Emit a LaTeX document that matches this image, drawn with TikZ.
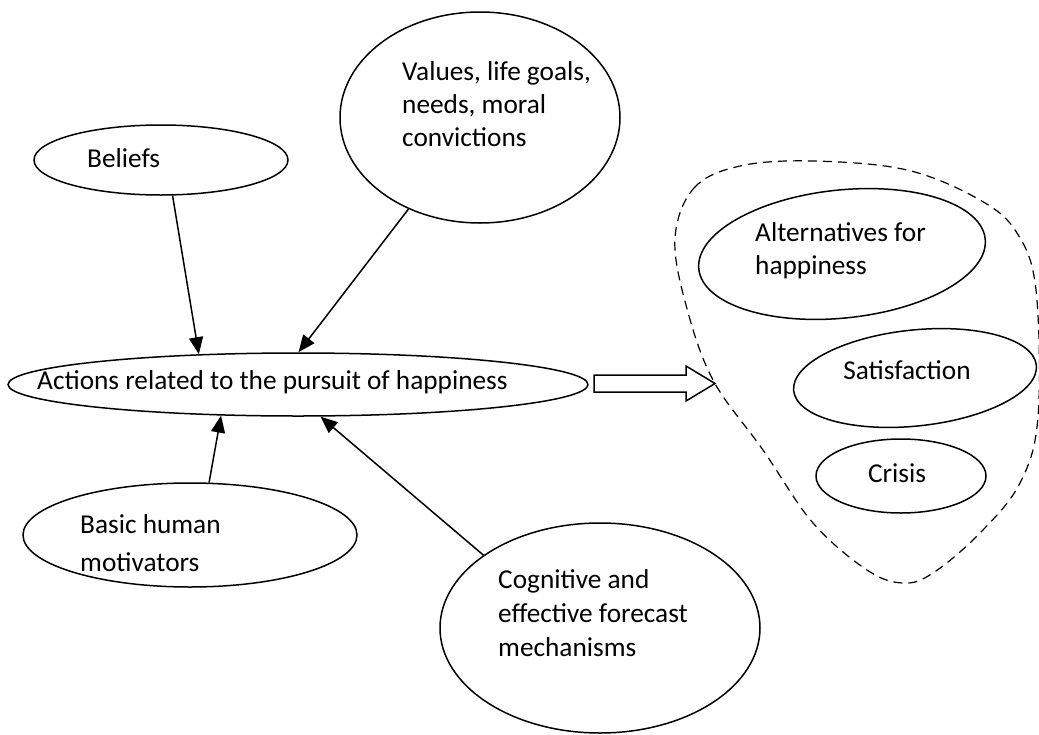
\documentclass[tikz,border=0pt]{standalone}
\usepackage{fontspec}
\setmainfont{Carlito}
\usetikzlibrary{shapes.geometric,arrows.meta}
\begin{document}
\begin{tikzpicture}[x=1pt,y=-1pt,
  oval/.style={draw,ellipse,line width=1.5pt,inner sep=0pt},
  lbl/.style={inner sep=0pt,align=left,anchor=west,font=\fontsize{27.3}{33}\selectfont},
  clbl/.style={inner sep=0pt,font=\fontsize{27.3}{33}\selectfont},
  link/.style={line width=1.5pt,-{Triangle[length=17pt,width=14pt]}},
  region/.style={draw,line width=1.2pt,dash pattern=on 9pt off 6pt},
  blockarrow/.style={draw,line width=1.5pt,fill=white}]
\useasboundingbox (0,0) rectangle (1039,734);
% main ellipse
\node[oval,minimum width=580pt,minimum height=63pt] (main) at (298,384.5) {};
\node[lbl] (mainT) at (37,382) {Actions related to the pursuit of happiness};
% beliefs
\node[oval,minimum width=254pt,minimum height=70pt] (beliefs) at (161,160) {};
\node[lbl] (beliefsT) at (87,158) {Beliefs};
% values
\node[oval,minimum width=280pt,minimum height=211pt] (values) at (480,117.5) {};
\node[lbl] (valuesT) at (402,104) {Values, life goals,\\needs, moral\\convictions};
% basic
\node[oval,minimum width=334pt,minimum height=104pt] (basic) at (190,535) {};
\node[lbl,font=\fontsize{27.3}{38}\selectfont] (basicT) at (80,543) {Basic human\\motivators};
% cognitive
\node[oval,minimum width=320pt,minimum height=210pt] (cog) at (600,628) {};
\node[lbl,font=\fontsize{27.3}{34}\selectfont] (cogT) at (498,613) {Cognitive and\\effective forecast\\mechanisms};
% right group
\node[oval,minimum width=288pt,minimum height=128pt,rotate=6] (alt) at (842,254) {};
\node[lbl] (altT) at (755,251) {Alternatives for\\happiness};
\node[oval,minimum width=244pt,minimum height=96pt,rotate=6] (sat) at (915,378) {};
\node[clbl] (satT) at (907,370) {Satisfaction};
\node[oval,minimum width=170pt,minimum height=74pt] (crisis) at (901,476) {};
\node[clbl] (crisisT) at (897,473) {Crisis};
% dashed region
\draw[region] plot[smooth cycle,tension=0.6] coordinates {
  (675,238) (694,188) (740,166) (813,161) (907,170) (980,200) (1017,233)
  (1036,290) (1038,417) (1020,483) (980,533) (933,573) (903,583) (867,570)
  (813,523) (763,450) (713,380) (686,305)};
% block arrow
\draw[blockarrow] (594,375) -- (686,375) -- (686,366) -- (715,383.5) -- (686,401) -- (686,392) -- (594,392) -- cycle;
% connectors
\draw[link] (beliefs.-72.5) -- (main.163.2);
\draw[link] (values.-128) -- (main.89.6);
\draw[link] (basic.70) -- (main.-158.8);
\draw[link] (cog.148.7) -- (main.-55);
\end{tikzpicture}
\end{document}
